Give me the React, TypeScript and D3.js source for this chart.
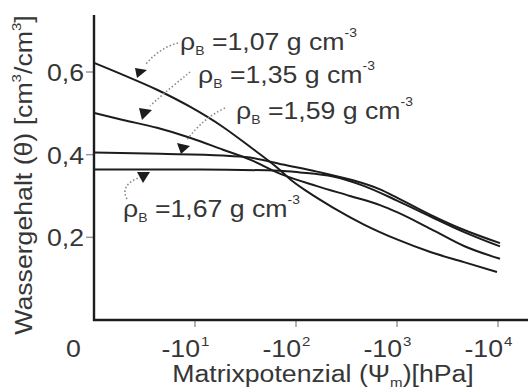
import React from "react";
import * as d3 from "d3";

// ---- data: log10 of |matric potential| in hPa, and water content θ ----
const LOG_107 = [0, 0.287, 0.624, 0.95, 1.277, 1.545, 1.812, 1.97, 2.109, 2.366, 2.673, 3.0, 3.337, 3.663, 3.99];
const THETA_107 = [0.622, 0.593, 0.557, 0.516, 0.467, 0.419, 0.369, 0.335, 0.311, 0.272, 0.231, 0.195, 0.164, 0.14, 0.116];

const LOG_135 = [0, 0.287, 0.624, 0.95, 1.277, 1.545, 1.871, 2.208, 2.535, 2.832, 3.0, 3.337, 3.663, 4.02];
const THETA_135 = [0.501, 0.484, 0.465, 0.441, 0.412, 0.388, 0.351, 0.324, 0.3, 0.278, 0.261, 0.22, 0.179, 0.148];

const LOG_159 = [0, 0.653, 1.277, 1.545, 1.871, 2.208, 2.535, 2.832, 3.0, 3.327, 3.653, 4.02];
const THETA_159 = [0.405, 0.402, 0.398, 0.393, 0.376, 0.359, 0.34, 0.316, 0.296, 0.255, 0.219, 0.186];

const LOG_167 = [0, 1.05, 1.842, 2.04, 2.366, 2.663, 3.0, 3.327, 3.653, 4.02];
const THETA_167 = [0.364, 0.364, 0.361, 0.357, 0.347, 0.325, 0.289, 0.251, 0.214, 0.178];

const DENSITIES = ["1,07", "1,35", "1,59", "1,67"];

const X_TICK_EXP = [1, 2, 3, 4];
const Y_TICKS = [0.2, 0.4, 0.6];
const Y_TICK_LABELS = ["0,2", "0,4", "0,6"];

// ---- layout / style ----
const W = 528;
const H = 392;
const FONT = "'Liberation Sans', Arial, Helvetica, sans-serif";
const SX = 1.16;
const TEXT = "#363636";
const INK = "#1c1c1c";

const xScale = d3.scaleLog().domain([1, 1e4]).range([94, 498]);
const yScale = d3.scaleLinear().domain([0, 0.6]).range([320, 72]);

const seriesData = [
  { lg: LOG_107, th: THETA_107 },
  { lg: LOG_135, th: THETA_135 },
  { lg: LOG_159, th: THETA_159 },
  { lg: LOG_167, th: THETA_167 },
];

// annotation decoration (pixels)
const ANNOT = [
  { x: 180, y: 50, path: "M178,43 C167,46 156,52 146,64", head: "135,68 147,70 137,78" },
  { x: 198, y: 83, path: "M190,72 C178,82 165,92 150,106", head: "139,108 152,110 142,120" },
  { x: 236, y: 119, path: "M225,108 C210,115 198,125 186,141", head: "177,143 190,146 181,154" },
  { x: 123, y: 217, path: "M127,199 C122,190 126,182 141,177", head: "137,172 150,172 143,183" },
];

const ST: React.FC<{ x: number; y: number; anchor?: string; size?: number; rotate?: number; children: React.ReactNode }> = ({
  x, y, anchor = "start", size = 23, rotate = 0, children,
}) => (
  <g transform={`translate(${x},${y}) rotate(${rotate}) scale(${SX},1)`}>
    <text x={0} y={0} textAnchor={anchor} fontSize={size} fontFamily={FONT} fill={TEXT}>
      {children}
    </text>
  </g>
);

export default function App() {
  const line = d3
    .line<[number, number]>()
    .x((d) => xScale(Math.pow(10, d[0])))
    .y((d) => yScale(d[1]))
    .curve(d3.curveMonotoneX);

  return (
    <svg width={W} height={H} style={{ position: "absolute", left: 0, top: 0, background: "#fff" }}>
      <rect x={0} y={0} width={W} height={H} fill="#fff" />

      {/* tick marks */}
      {Y_TICKS.map((t) => (
        <line key={"yt" + t} x1={86} x2={94} y1={yScale(t)} y2={yScale(t)} stroke="#9a9a9a" strokeWidth={1.5} />
      ))}
      {X_TICK_EXP.map((e) => (
        <line key={"xt" + e} x1={xScale(Math.pow(10, e))} x2={xScale(Math.pow(10, e))} y1={320} y2={327} stroke="#9a9a9a" strokeWidth={1.5} />
      ))}

      {/* axes */}
      <line x1={94} x2={94} y1={15} y2={321} stroke={INK} strokeWidth={2.4} />
      <line x1={93} x2={528} y1={320} y2={320} stroke={INK} strokeWidth={2.4} />

      {/* curves */}
      {seriesData.map((s, i) => (
        <path
          key={i}
          d={line(s.lg.map((l, j) => [l, s.th[j]] as [number, number])) || ""}
          fill="none"
          stroke={INK}
          strokeWidth={2}
        />
      ))}

      {/* y tick labels */}
      {Y_TICKS.map((t, i) => (
        <ST key={"yl" + t} x={84} y={yScale(t) + 9} anchor="end">
          {Y_TICK_LABELS[i]}
        </ST>
      ))}

      {/* x tick labels */}
      <ST x={73.5} y={357} anchor="middle">0</ST>
      {X_TICK_EXP.map((e) => {
        const xp = xScale(Math.pow(10, e));
        return (
          <g key={"xl" + e}>
            <ST x={xp + 5} y={357} anchor="end">-10</ST>
            <ST x={xp + 6} y={346} size={13}>{String(e)}</ST>
          </g>
        );
      })}

      {/* axis titles */}
      <ST x={323} y={382} anchor="middle">
        <tspan>Matrixpotenzial (Ψ</tspan>
        <tspan fontSize={13} dy={5}>m</tspan>
        <tspan dy={-5}>)[hPa]</tspan>
      </ST>
      <ST x={32} y={175} anchor="middle" rotate={-90}>
        <tspan>Wassergehalt (θ) [cm</tspan>
        <tspan fontSize={13} dy={-11}>3</tspan>
        <tspan dy={11}>/cm</tspan>
        <tspan fontSize={13} dy={-11}>3</tspan>
        <tspan dy={11}>]</tspan>
      </ST>

      {/* annotations */}
      {ANNOT.map((a, i) => (
        <g key={"an" + i}>
          <path d={a.path} fill="none" stroke="#8a8a8a" strokeWidth={1.6} strokeDasharray="1.5 2.2" />
          <polygon points={a.head} fill={INK} />
          <ST x={a.x} y={a.y}>
            <tspan>ρ</tspan>
            <tspan fontSize={12} dy={5}>B</tspan>
            <tspan dy={-5}>{` =${DENSITIES[i]} g cm`}</tspan>
            <tspan fontSize={12} dy={-13}>-3</tspan>
          </ST>
        </g>
      ))}
    </svg>
  );
}
